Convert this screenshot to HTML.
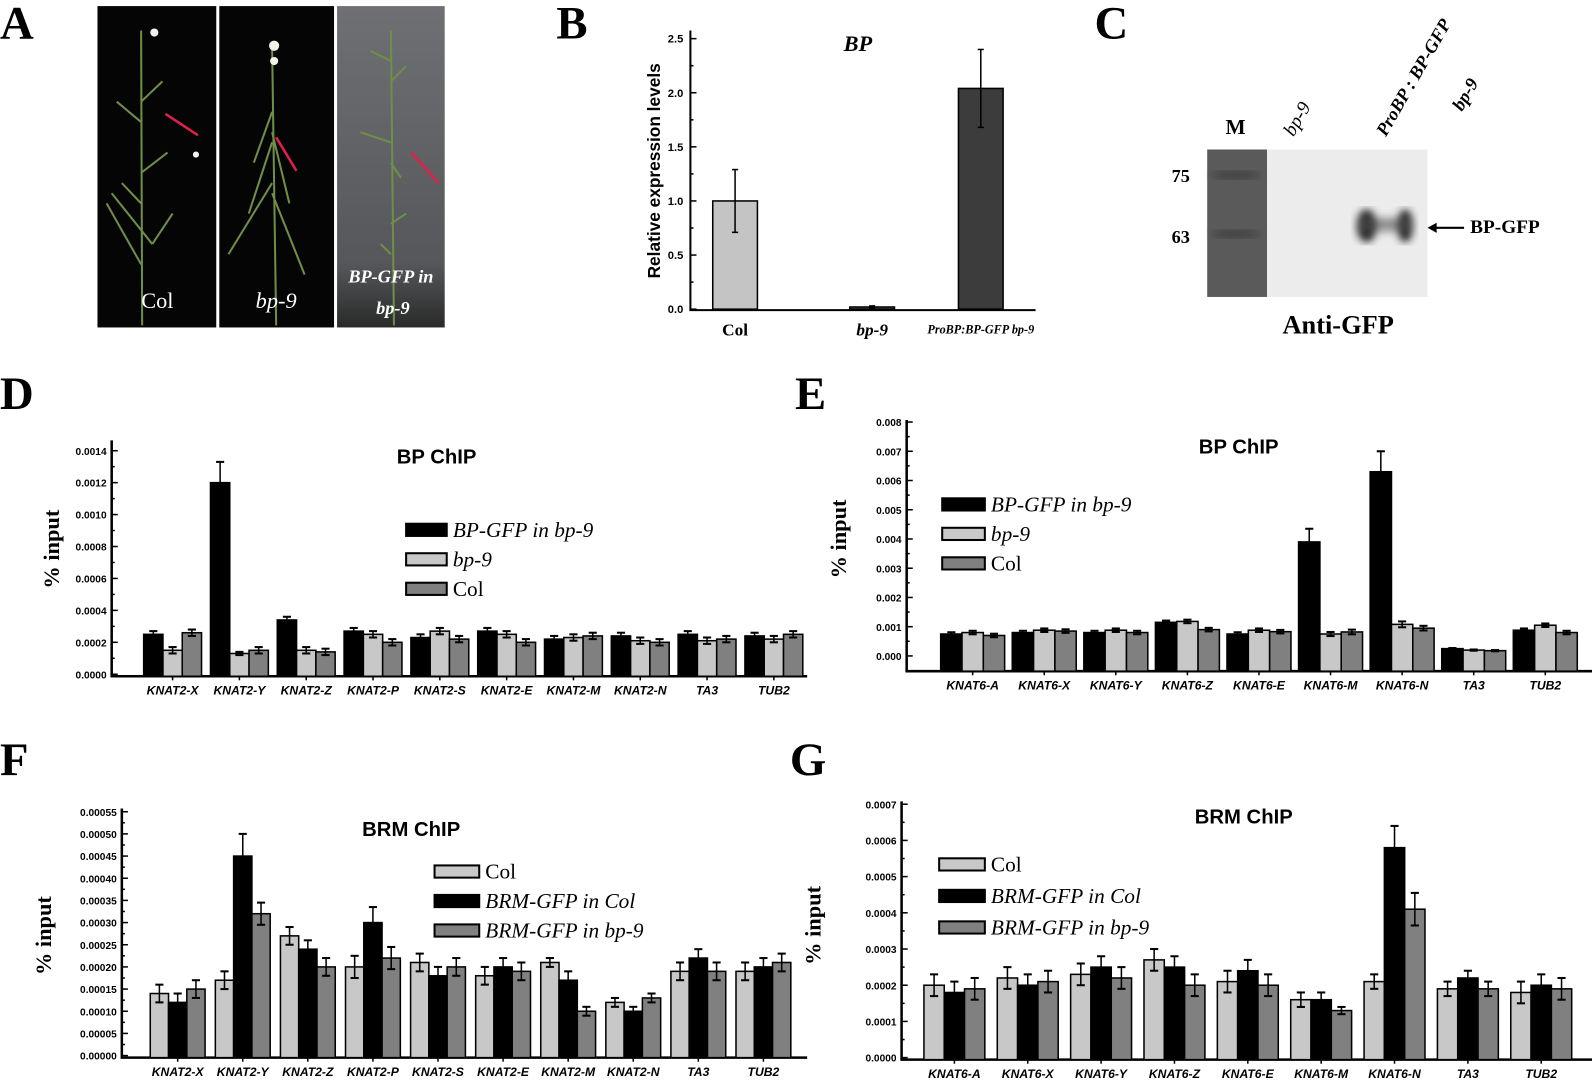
<!DOCTYPE html>
<html><head><meta charset="utf-8"><style>
html,body{margin:0;padding:0;background:#fff;width:1592px;height:1080px;overflow:hidden}
svg{display:block}
.L{font-family:"Liberation Serif",serif;font-weight:bold;font-size:46px}
.t{font-family:"Liberation Sans",sans-serif;font-weight:bold;font-size:10px}
.tb{font-family:"Liberation Sans",sans-serif;font-weight:bold;font-size:11px}
.xl{font-family:"Liberation Sans",sans-serif;font-weight:bold;font-style:italic;font-size:12px}
.ti{font-family:"Liberation Sans",sans-serif;font-weight:bold;font-size:20px}
.yt{font-family:"Liberation Serif",serif;font-weight:bold;font-size:22px}
.lg{font-family:"Liberation Serif",serif;font-size:21px}
</style></head><body>
<svg id="s" width="1592" height="1080" viewBox="0 0 1568 1062" preserveAspectRatio="none" xmlns="http://www.w3.org/2000/svg">
<text class="L" x="0" y="38">A</text>
<text class="L" x="548" y="38">B</text>
<text class="L" x="1078" y="38">C</text>
<text class="L" x="0" y="402">D</text>
<text class="L" x="783" y="402">E</text>
<text class="L" x="0" y="762">F</text>
<text class="L" x="778" y="762">G</text>
<defs><linearGradient id="gg" x1="0" y1="0" x2="0" y2="1"><stop offset="0" stop-color="#6e7074"/><stop offset="0.8" stop-color="#55575a"/><stop offset="1" stop-color="#2a2a2a"/></linearGradient>
<filter id="bl"><feGaussianBlur stdDeviation="4"/></filter></defs>
<rect x="96" y="6" width="117" height="316" fill="#050505"/>
<rect x="216" y="6" width="113" height="316" fill="#050505"/>
<rect x="332" y="6" width="106" height="316" fill="url(#gg)"/>
<g stroke="#6f8f48" stroke-width="2" fill="none">
<path d="M140 320 L139 30 M139 100 L160 80 M139 120 L115 100 M139 170 L165 150 M139 200 L120 180 M150 240 L110 190 M150 240 L170 210 M139 260 L105 200"/>
<path d="M272 320 L268 45 M268 110 L250 160 M268 130 L285 200 M268 180 L225 250 M268 190 L300 270 M268 140 L245 210"/>
<path d="M388 320 L385 30 M385 60 L365 50 M385 80 L400 65 M385 140 L355 130 M385 160 L395 175 M385 220 L400 210 M385 250 L375 240"/>
</g>
<g stroke="#e0204a" stroke-width="2.5"><line x1="195" y1="133" x2="163" y2="112"/><line x1="292" y1="168" x2="272" y2="135"/><line x1="432" y1="180" x2="405" y2="150"/></g>
<g fill="#f4f4ea"><circle cx="152" cy="32" r="4"/><circle cx="270" cy="45" r="5"/><circle cx="270" cy="60" r="4"/><circle cx="193" cy="152" r="3"/></g>
<text x="155" y="303" font-family="Liberation Serif,serif" font-size="22" fill="#fff" text-anchor="middle">Col</text>
<text x="272" y="303" font-family="Liberation Serif,serif" font-size="22" font-style="italic" fill="#fff" text-anchor="middle">bp-9</text>
<text x="385" y="278" font-family="Liberation Serif,serif" font-size="18" font-style="italic" font-weight="bold" fill="#fff" text-anchor="middle">BP-GFP in</text>
<text x="387" y="309" font-family="Liberation Serif,serif" font-size="18" font-style="italic" font-weight="bold" fill="#fff" text-anchor="middle">bp-9</text>
<rect x="1189" y="147" width="59" height="145" fill="#5a5a5a"/>
<rect x="1248" y="147" width="158" height="145" fill="#ececec"/>
<ellipse cx="1217" cy="172" rx="24" ry="4" fill="#404040" filter="url(#bl)"/>
<ellipse cx="1217" cy="230" rx="24" ry="4" fill="#404040" filter="url(#bl)"/>
<g filter="url(#bl)"><ellipse cx="1346" cy="222" rx="10" ry="16" fill="#222"/>
<ellipse cx="1384" cy="222" rx="8" ry="16" fill="#222"/>
<rect x="1338" y="214" width="54" height="14" fill="#555" opacity="0.6"/></g>
<text x="1163" y="179" font-family="Liberation Serif,serif" font-weight="bold" font-size="18" text-anchor="middle">75</text>
<text x="1163" y="239" font-family="Liberation Serif,serif" font-weight="bold" font-size="18" text-anchor="middle">63</text>
<text x="1217" y="132" font-family="Liberation Serif,serif" font-weight="bold" font-size="21" text-anchor="middle">M</text>
<text transform="translate(1274,135) rotate(-60)" font-family="Liberation Serif,serif" font-style="italic" font-size="19">bp-9</text>
<text transform="translate(1365,135) rotate(-60)" font-family="Liberation Serif,serif" font-style="italic" font-weight="bold" font-size="18">ProBP : BP-GFP</text>
<text transform="translate(1440,110) rotate(-60)" font-family="Liberation Serif,serif" font-style="italic" font-weight="bold" font-size="18">bp-9</text>
<line x1="1442" y1="224" x2="1412" y2="224" stroke="#000" stroke-width="2"/><path d="M1406 224 L1415 219 L1415 229Z"/>
<text x="1448" y="229" font-family="Liberation Serif,serif" font-weight="bold" font-size="19">BP-GFP</text>
<text x="1318" y="328" font-family="Liberation Serif,serif" font-weight="bold" font-size="26" text-anchor="middle">Anti-GFP</text>
<g id="charts"></g>
</svg>
<script>
var g=document.getElementById('charts'),h='';
function R(x,y,w,hh,f,sw){h+='<rect x="'+x+'" y="'+y+'" width="'+w+'" height="'+hh+'" fill="'+f+'" stroke="#000" stroke-width="'+(sw||1.5)+'"/>';}
function Ln(a,b,c,d,w){h+='<line x1="'+a+'" y1="'+b+'" x2="'+c+'" y2="'+d+'" stroke="#000" stroke-width="'+(w||2)+'"/>';}
function T(x,y,s,c,a,ex){h+='<text x="'+x+'" y="'+y+'" class="'+c+'" text-anchor="'+(a||'start')+'" '+(ex||'')+'>'+s+'</text>';}
(function(){var ax=680,y0=304,k=106.4;Ln(ax,30,ax,305,2);Ln(ax-1,305,1020,305,2);
for(var i=0;i<=10;i++){var v=i*0.25,y=y0-v*k;Ln(ax,y,ax+(i%2?3:6),y,1.5);if(i%2==0)T(ax-7,y+4,v.toFixed(1),'tb','end');}
var d=[[724,1,0.29,'#c4c4c4'],[859,0.02,0.01,'#5a5a5a'],[966,2.04,0.36,'#3c3c3c']];
d.forEach(function(b){R(b[0]-22,y0-b[1]*k,44,b[1]*k,b[3]);var t=y0-(b[1]+b[2])*k,bt=y0-(b[1]-b[2])*k;Ln(b[0],t,b[0],bt,1.5);Ln(b[0]-3,t,b[0]+3,t,1.5);Ln(b[0]-3,bt,b[0]+3,bt,1.5);});
T(845,50,'BP','yt','middle','font-style="italic"');
h+='<text transform="translate(650,168) rotate(-90)" text-anchor="middle" font-family="Liberation Sans,sans-serif" font-weight="bold" font-size="17">Relative expression levels</text>';
T(724,330,'Col','yt','middle','style="font-size:17px"');T(859,330,'bp-9','yt','middle','style="font-size:17px;font-style:italic"');
T(966,328,'ProBP:BP-GFP bp-9','yt','middle','style="font-size:12px;font-style:italic"');})();
var C=['#000','#c8c8c8','#808080'];
function chart(o){var ax=o.ax,y0=o.y0,k=o.k;
Ln(ax,o.top,ax,o.xa+1,2.5);Ln(ax-1,o.xa,o.xe,o.xa,2.5);
for(var i=0;i<=o.nt*2;i++){var v=i*o.step/2,y=y0-v*k;Ln(ax,y,ax+(i%2?3:6),y,1.5);if(i%2==0)T(ax-5,y+4,v.toFixed(o.dp),'t','end');}
o.g.forEach(function(gr,j){var cx=o.c0+j*o.sp,bw=o.bw;
for(var s=0;s<3;s++){var x=cx+(s-1)*bw,v=gr[1][s],e=gr[2]?gr[2][s]:o.e,col=o.cols[s];
R(x-bw/2,y0-v*k,bw,v*k+(o.xa-y0),col);var t=y0-(v+e)*k,bt=y0-(v-e)*k;Ln(x,t,x,bt,1.5);Ln(x-4,t,x+4,t,2);Ln(x-4,bt,x+4,bt,2);}
Ln(cx,o.xa,cx,o.xa+4,1.5);T(cx,o.xa+18,gr[0],'xl','middle');});
T(o.tx,o.ty,o.title,'ti','middle');
h+='<text transform="translate('+o.yx+','+o.yy+') rotate(-90)" text-anchor="middle" class="yt">% input</text>';
o.leg.forEach(function(l,i){var y=o.ly+i*o.ld;R(o.lx,y-6,o.lw,12,o.cols[l[1]],2);T(o.lx+o.lw+6,y+7,l[0],'lg','start',l[2]?'font-style="italic"':'');});}
chart({ax:110,y0:663,k:31.4/0.0002,top:433,xa:665,xe:795,nt:7,step:0.0002,dp:4,c0:170,sp:65.8,bw:19,e:0.00002,cols:C,
g:[['KNAT2-X',[.00025,.00015,.00026]],['KNAT2-Y',[.0012,.00013,.00015],[.00013,.00001,.00002]],['KNAT2-Z',[.00034,.00015,.00014]],['KNAT2-P',[.00027,.00025,.0002]],['KNAT2-S',[.00023,.00027,.00022]],['KNAT2-E',[.00027,.00025,.0002]],['KNAT2-M',[.00022,.00023,.00024]],['KNAT2-N',[.00024,.00021,.0002]],['TA3',[.00025,.00021,.00022]],['TUB2',[.00024,.00022,.00025]]],
tx:430,ty:456,title:'BP ChIP',yx:58,yy:540,lx:400,ly:521,ld:29,lw:40,leg:[['BP-GFP in bp-9',0,1],['bp-9',1,1],['Col',2,0]]});
chart({ax:893,y0:645,k:28.75/0.001,top:413,xa:660,xe:1568,nt:8,step:0.001,dp:3,c0:958,sp:70.5,bw:21,e:0.00006,cols:C,
g:[['KNAT6-A',[.00075,.0008,.0007]],['KNAT6-X',[.0008,.00088,.00085]],['KNAT6-Y',[.0008,.00088,.0008]],['KNAT6-Z',[.00115,.00118,.0009]],['KNAT6-E',[.00075,.00088,.00083]],['KNAT6-M',[.0039,.00075,.00082],[.00045,.00007,.00008]],['KNAT6-N',[.0063,.00108,.00095],[.0007,.0001,.00008]],['TA3',[.00025,.0002,.00018],[.00002,.00002,.00002]],['TUB2',[.00088,.00105,.0008]]],
tx:1220,ty:446,title:'BP ChIP',yx:833,yy:530,lx:928,ly:496,ld:29,lw:42,leg:[['BP-GFP in bp-9',0,1],['bp-9',1,1],['Col',2,0]]});
var C2=['#c8c8c8','#000','#808080'];
chart({ax:120,y0:1038,k:21.8/0.00005,top:795,xa:1040,xe:795,nt:11,step:0.00005,dp:5,c0:175,sp:64.1,bw:18,e:0.00002,cols:C2,
g:[['KNAT2-X',[.00014,.00012,.00015]],['KNAT2-Y',[.00017,.00045,.00032],[.00002,.00005,.000025]],['KNAT2-Z',[.00027,.00024,.0002]],['KNAT2-P',[.0002,.0003,.00022],[.000025,.000035,.000025]],['KNAT2-S',[.00021,.00018,.0002]],['KNAT2-E',[.00018,.0002,.00019]],['KNAT2-M',[.00021,.00017,.0001],[.00001,.00002,.00001]],['KNAT2-N',[.00012,.0001,.00013],[.00001,.00001,.00001]],['TA3',[.00019,.00022,.00019]],['TUB2',[.00019,.0002,.00021]]],
tx:405,ty:822,title:'BRM ChIP',yx:50,yy:920,lx:428,ly:857,ld:29,lw:44,leg:[['Col',0,0],['BRM-GFP in Col',1,1],['BRM-GFP in bp-9',2,1]]});
chart({ax:888,y0:1040,k:35.6/0.0001,top:788,xa:1042,xe:1568,nt:7,step:0.0001,dp:4,c0:940,sp:72.25,bw:20,e:0.00003,cols:C2,
g:[['KNAT6-A',[.0002,.00018,.00019]],['KNAT6-X',[.00022,.0002,.00021]],['KNAT6-Y',[.00023,.00025,.00022]],['KNAT6-Z',[.00027,.00025,.0002]],['KNAT6-E',[.00021,.00024,.0002]],['KNAT6-M',[.00016,.00016,.00013],[.00002,.00002,.00001]],['KNAT6-N',[.00021,.00058,.00041],[.00002,.00006,.000045]],['TA3',[.00019,.00022,.00019],[.00002,.00002,.00002]],['TUB2',[.00018,.0002,.00019]]],
tx:1225,ty:810,title:'BRM ChIP',yx:808,yy:910,lx:925,ly:850,ld:31,lw:45,leg:[['Col',0,0],['BRM-GFP in Col',1,1],['BRM-GFP in bp-9',2,1]]});
g.innerHTML=h;
</script>
</body></html>
